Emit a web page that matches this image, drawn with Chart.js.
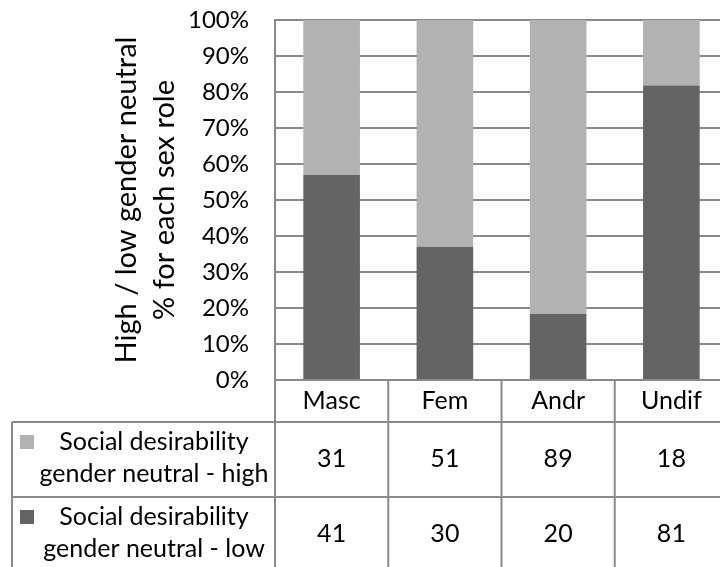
<!DOCTYPE html>
<html>
<head>
<meta charset="utf-8">
<script src="https://cdn.jsdelivr.net/npm/chart.js@4/dist/chart.umd.min.js"></script>
<style>
  html, body { margin: 0; padding: 0; background: #fff; overflow: hidden; }
  #wrap { width: 728px; height: 567px; }
</style>
</head>
<body>
<div id="wrap"><canvas id="c" width="728" height="567"></canvas></div>
<script>
// data
const categories = ['Masc', 'Fem', 'Andr', 'Undif'];
const highCounts = [31, 51, 89, 18];
const lowCounts = [41, 30, 20, 81];
const seriesNames = [
  ['Social desirability', 'gender neutral - high'],
  ['Social desirability', 'gender neutral - low']
];
const axisTitle = ['High / low gender neutral', '% for each sex role'];

const HIGH = '#b2b2b2';
const LOW = '#646464';
const LINE = '#8a8a8a';
const FONT = 'Lato, "Open Sans", sans-serif';

// 100% stacked: share of each group per category
const totals = categories.map((_, i) => highCounts[i] + lowCounts[i]);
const lowPct = lowCounts.map((v, i) => v / totals[i] * 100);
const highPct = highCounts.map((v, i) => v / totals[i] * 100);

// data table under the plot
const dataTable = {
  id: 'dataTable',
  afterDraw(chart) {
    const ctx = chart.ctx;
    const x = chart.scales.x;
    const area = chart.chartArea;
    const colW = (area.right - area.left) / categories.length;
    const headTop = area.bottom;
    const rowTops = [422, 497];
    const rowH = 75;
    const bottom = rowTops[1] + rowH;
    const tableLeft = 12;

    ctx.save();
    ctx.strokeStyle = LINE;
    ctx.lineWidth = 2;
    ctx.beginPath();
    // horizontal rules
    rowTops.forEach(t => { ctx.moveTo(tableLeft, t); ctx.lineTo(area.right, t); });
    ctx.moveTo(tableLeft, bottom); ctx.lineTo(area.right, bottom);
    // vertical rules
    ctx.moveTo(tableLeft, rowTops[0]); ctx.lineTo(tableLeft, bottom);
    for (let i = 0; i <= categories.length; i++) {
      const xx = area.left + i * colW;
      ctx.moveTo(xx, headTop); ctx.lineTo(xx, bottom);
    }
    ctx.stroke();

    ctx.fillStyle = '#000';
    ctx.font = '25px ' + FONT;
    ctx.textAlign = 'center';
    ctx.textBaseline = 'alphabetic';
    categories.forEach((c, i) => {
      const cx = x.getPixelForValue(i);
      ctx.fillText(c, cx, headTop + 29);
      ctx.fillText(String(highCounts[i]), cx, rowTops[0] + 45);
      ctx.fillText(String(lowCounts[i]), cx, rowTops[1] + 45);
    });

    // row headers with legend keys
    const keys = [HIGH, LOW];
    seriesNames.forEach((lines, r) => {
      const t = rowTops[r];
      ctx.fillStyle = keys[r];
      ctx.fillRect(20, t + 13, 14, 14);
      ctx.fillStyle = '#000';
      ctx.fillText(lines[0], 154, t + 28);
      ctx.fillText(lines[1], 154, t + 60);
    });
    ctx.restore();
  }
};

new Chart(document.getElementById('c'), {
  type: 'bar',
  data: {
    labels: categories,
    datasets: [
      { label: seriesNames[1].join(' '), data: lowPct, backgroundColor: LOW },
      { label: seriesNames[0].join(' '), data: highPct, backgroundColor: HIGH }
    ]
  },
  options: {
    responsive: false,
    animation: false,
    layout: { padding: { top: 0, bottom: 187, left: 0, right: 0 } },
    plugins: { legend: { display: false }, tooltip: { enabled: false } },
    datasets: { bar: { categoryPercentage: 1, barPercentage: 0.5 } },
    scales: {
      x: { stacked: true, display: false },
      y: {
        stacked: true,
        min: 0,
        max: 100,
        ticks: {
          stepSize: 10,
          padding: 26,
          color: '#000',
          font: { family: FONT, size: 24 },
          callback: v => v + '%'
        },
        grid: { color: LINE, lineWidth: 2, drawTicks: false },
        border: { color: LINE, width: 2 },
        title: {
          display: true,
          text: axisTitle,
          color: '#000',
          font: { family: FONT, size: 29, lineHeight: 1.31 },
          padding: { top: 108, bottom: 0 }
        },
        afterFit(scale) {
          scale.width = 275;
          // tick padding would otherwise push the plot down
          scale.paddingTop = 20;
          scale.paddingBottom = 20;
        }
      }
    }
  },
  plugins: [dataTable]
});
</script>
</body>
</html>
